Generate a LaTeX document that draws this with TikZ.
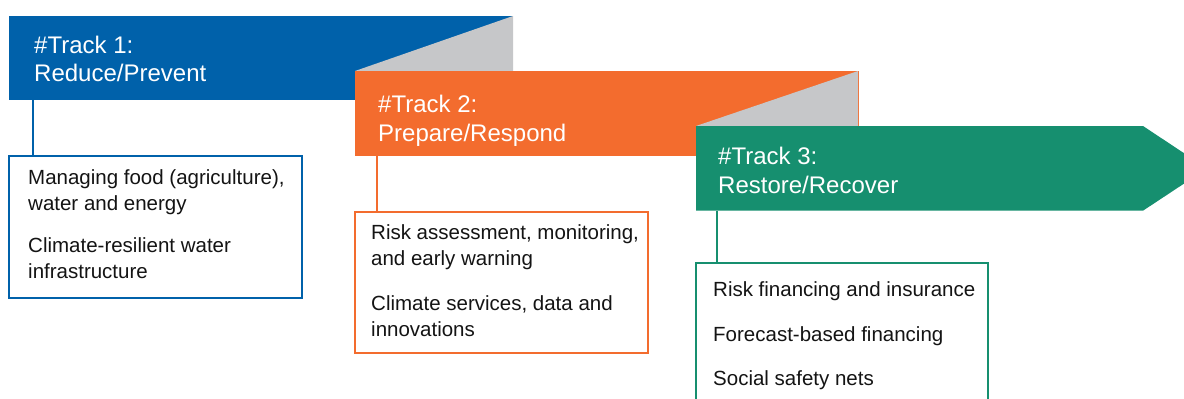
\documentclass[tikz,border=0pt]{standalone}
\usepackage{fontspec}
\setmainfont{Liberation Sans}
\definecolor{tblue}{RGB}{0,97,170}
\definecolor{torange}{RGB}{243,108,46}
\definecolor{tgreen}{RGB}{22,143,111}
\definecolor{tgray}{RGB}{198,199,201}
\definecolor{ttext}{RGB}{20,20,20}
\tikzset{
  bar/.style={inner sep=0pt, outer sep=0pt, anchor=north west, draw=none},
  titletext/.style={text=white, font=\fontsize{24}{28.5}\selectfont, align=left, anchor=base west, inner sep=0pt},
  itemtext/.style={text=ttext, font=\fontsize{20.5}{25.5}\selectfont, align=left, anchor=base west, inner sep=0pt},
  itembox/.style={draw=#1, line width=2pt, inner sep=0pt, outer sep=0pt, anchor=north west, fill=white},
  link/.style={draw=#1, line width=2pt},
}
\begin{document}
\begin{tikzpicture}[x=1pt,y=-1pt]
\useasboundingbox (0,0) rectangle (1184,399);
\clip (0,0) rectangle (1184,399);
% Track 1 bar
\node[bar, fill=tblue, minimum width=504pt, minimum height=84pt] (bar1) at (9,16) {};
\fill[tgray] (355,71) -- (513,16) -- (513,71) -- cycle;
% Track 2 bar
\node[bar, fill=torange, minimum width=503.7pt, minimum height=84.7pt] (bar2) at (355,71) {};
\fill[tgray] (696,126) -- (858,71) -- (858,126) -- cycle;
% Track 3 arrow
\fill[tgreen] (696,126) -- (1143,126) -- (1207,168.4) -- (1143,210.7) -- (696,210.7) -- cycle;
% titles (anchored at the baseline of the last line)
\node[titletext] (title1) at (34,81.7) {\#Track 1:\\Reduce/Prevent};
\node[titletext] (title2) at (378,141) {\#Track 2:\\Prepare/Respond};
\node[titletext] (title3) at (718,193) {\#Track 3:\\Restore/Recover};
% boxes
\node[itembox=tblue, minimum width=293pt, minimum height=142pt] (box1) at (9,155.7) {};
\node[itembox=torange, minimum width=292.5pt, minimum height=141pt] (box2) at (355,211.5) {};
\node[itembox=tgreen, minimum width=292.5pt, minimum height=160pt] (box3) at (695.5,263) {};
% connectors
\coordinate (c1) at (33,100);
\coordinate (c2) at (377,155.7);
\coordinate (c3) at (717,210.7);
\draw[link=tblue] (c1) -- (c1 |- box1.north);
\draw[link=torange] (c2) -- (c2 |- box2.north);
\draw[link=tgreen] (c3) -- (c3 |- box3.north);
% items
\node[itemtext] (i11) at (28,210) {Managing food (agriculture),\\water and energy};
\node[itemtext] (i12) at (28,278) {Climate-resilient water\\infrastructure};
\node[itemtext] (i21) at (371,265) {Risk assessment, monitoring,\\and early warning};
\node[itemtext] (i22) at (371,336) {Climate services, data and\\innovations};
\node[itemtext] (i31) at (713,296.7) {Risk financing and insurance};
\node[itemtext] (i32) at (713,341) {Forecast-based financing};
\node[itemtext] (i33) at (713,385.7) {Social safety nets};
\end{tikzpicture}
\end{document}
